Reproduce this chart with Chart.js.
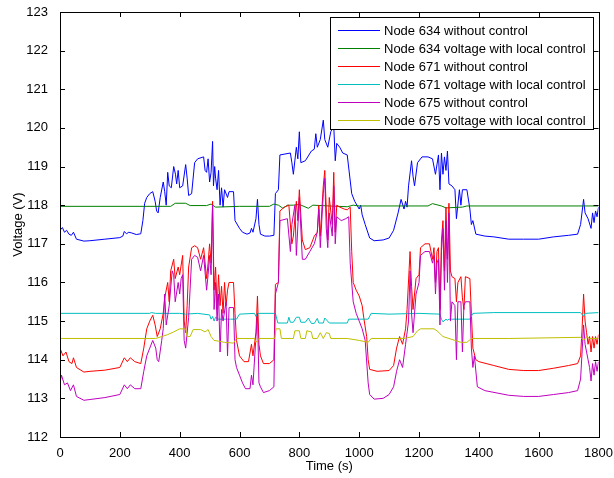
<!DOCTYPE html>
<html>
<head>
<meta charset="utf-8">
<script src="https://cdn.jsdelivr.net/npm/chart.js@4.4.0/dist/chart.umd.min.js"></script>
<style>
    html, body { margin: 0; padding: 0; background: #fff; }
</style>
</head>
<body>
<canvas id="voltageChart" width="614" height="478"></canvas>
<script>
/**
 * Node voltages with / without local control
 */

// axis ticks
const timeTicks = [0, 200, 400, 600, 800, 1000, 1200, 1400, 1600, 1800];
const voltTicks = [112, 113, 114, 115, 116, 117, 118, 119, 120, 121, 122, 123];

const seriesLabels = [
    'Node 634 without control',
    'Node 634 voltage with local control',
    'Node 671 without control',
    'Node 671 voltage with local control',
    'Node 675 without control',
    'Node 675 voltage with local control'
];
const seriesColors = ['#0000ff', '#008000', '#ff0000', '#00bfbf', '#bf00bf', '#bfbf00'];

// [time (s), voltage (V)]
const node634Free = [
    [0,117.35],[8,117.42],[15,117.3],[22,117.35],[30,117.25],[38,117.22],[45,117.3],[55,117.12],[80,117.07],[100,117.08],
    [150,117.12],[200,117.16],[210,117.2],[215,117.32],[222,117.26],[230,117.3],[240,117.28],[255,117.24],[270,117.26],[277,117.6],
    [283,118.05],[290,118.2],[300,118.3],[310,118.35],[318,118.1],[323,117.85],[328,117.8],[335,118.2],[345,118.6],[350,118.35],
    [355,118.0],[360,118.85],[365,118.5],[372,118.45],[380,119.0],[386,118.8],[390,118.55],[395,118.9],[400,118.45],[410,118.5],
    [420,119.05],[425,118.7],[430,118.25],[440,118.3],[450,119.1],[460,119.2],[480,119.25],[485,118.9],[490,118.85],[495,119.2],
    [500,118.6],[505,118.85],[510,119.65],[513,118.5],[517,119.0],[520,118.7],[525,118.4],[530,118.9],[535,118.0],[540,118.45],
    [545,117.95],[550,118.4],[560,118.2],[565,118.35],[580,118.35],[585,117.6],[600,117.4],[610,117.3],[625,117.25],[635,117.28],
    [640,117.4],[645,117.3],[655,117.65],[660,118.15],[665,117.5],[670,117.25],[685,117.2],[700,117.2],[715,117.22],[720,118.3],
    [730,118.4],[735,119.3],[770,119.35],[775,119.1],[780,118.8],[790,119.5],[795,119.2],[800,119.9],[805,119.1],[820,119.15],
    [840,119.4],[850,119.45],[855,119.85],[860,119.5],[870,119.7],[880,120.2],[885,119.7],[895,119.5],[905,119.9],[915,120.05],
    [920,119.15],[925,119.6],[935,119.5],[945,119.35],[960,119.3],[975,118.3],[985,118.1],[1000,117.9],[1005,118.0],[1010,117.75],
    [1020,117.5],[1035,117.15],[1050,117.08],[1080,117.1],[1100,117.15],[1115,117.35],[1130,117.8],[1140,118.15],[1150,117.9],[1155,118.1],
    [1160,117.95],[1165,118.5],[1175,119.15],[1180,118.75],[1185,118.5],[1195,119.1],[1210,119.25],[1230,119.25],[1245,119.2],[1255,118.8],
    [1265,119.3],[1270,118.4],[1275,119.35],[1280,118.8],[1285,119.25],[1290,118.9],[1295,119.4],[1300,118.55],[1310,118.5],[1320,118.4],
    [1325,117.65],[1335,118.4],[1340,118.0],[1345,118.4],[1360,118.4],[1370,117.9],[1375,117.5],[1380,117.6],[1390,117.25],[1420,117.2],
    [1450,117.18],[1500,117.12],[1550,117.12],[1600,117.12],[1650,117.18],[1700,117.22],[1730,117.25],[1740,117.5],[1750,118.15],[1755,117.8],
    [1765,117.65],[1775,117.4],[1780,117.8],[1785,117.55],[1790,117.85],[1795,117.7],[1800,117.95]
];

const node634Ctrl = [
    [0,117.97],[370,117.97],[385,118.05],[420,118.05],[435,117.99],[490,117.99],[505,118.03],[520,117.95],[600,117.97],[700,117.97],
    [715,118.03],[730,118.0],[745,117.92],[760,118.0],[780,118.0],[800,118.02],[830,117.92],[845,118.0],[900,117.98],[960,117.96],
    [980,118.0],[1000,117.98],[1230,117.98],[1245,118.04],[1275,117.98],[1290,117.93],[1345,117.95],[1360,117.98],[1800,117.98]
];

const node671Free = [
    [0,114.3],[5,114.2],[10,114.1],[20,114.2],[30,113.95],[40,113.9],[45,114.05],[55,113.8],[80,113.68],[100,113.7],
    [150,113.73],[200,113.8],[215,114.05],[225,113.95],[235,114.05],[250,113.95],[270,113.9],[280,114.3],[290,114.8],[300,115.0],
    [310,115.15],[318,114.9],[325,114.6],[335,114.8],[345,115.2],[350,115.6],[360,116.0],[365,115.5],[370,116.3],[380,116.6],
    [385,116.1],[395,116.4],[400,116.2],[410,116.7],[415,115.0],[420,114.7],[425,115.4],[430,116.4],[440,116.9],[450,116.95],
    [460,116.9],[470,116.6],[480,116.9],[490,116.1],[495,116.5],[500,117.0],[505,116.5],[510,118.1],[515,115.8],[520,116.4],
    [525,115.3],[530,116.2],[535,115.4],[540,115.9],[545,115.2],[550,116.0],[555,115.4],[560,115.8],[565,116.0],[580,116.0],
    [585,115.2],[590,114.5],[600,114.1],[615,113.95],[630,113.95],[640,114.4],[645,114.1],[655,114.7],[660,115.65],[665,114.4],
    [670,114.1],[680,113.9],[700,113.9],[715,114.0],[720,115.95],[730,116.0],[735,117.85],[750,117.95],[765,118.0],[775,117.0],
    [780,117.2],[790,118.1],[795,117.6],[800,118.4],[810,117.1],[820,116.85],[835,116.9],[850,117.2],[860,117.3],[865,118.0],
    [870,117.2],[880,118.5],[885,118.9],[890,117.9],[895,117.1],[900,118.2],[910,117.5],[915,118.85],[920,117.3],[925,118.0],
    [935,117.95],[950,117.9],[960,117.88],[970,117.95],[975,116.8],[980,116.0],[990,115.8],[1000,115.65],[1010,115.4],[1015,115.1],
    [1025,114.6],[1030,114.0],[1035,113.75],[1060,113.7],[1100,113.72],[1115,113.85],[1125,114.3],[1135,114.6],[1145,114.4],[1155,114.8],
    [1160,115.3],[1170,116.8],[1175,115.9],[1180,115.3],[1190,116.1],[1200,116.2],[1205,116.9],[1220,117.0],[1235,117.0],[1245,116.6],
    [1250,116.9],[1255,116.0],[1260,116.8],[1265,116.9],[1270,115.3],[1275,117.1],[1280,117.6],[1285,116.3],[1290,117.95],[1295,116.6],
    [1300,118.05],[1305,116.3],[1310,116.15],[1320,116.1],[1325,115.5],[1330,116.0],[1340,116.15],[1345,115.6],[1350,115.3],[1355,116.15],
    [1370,116.1],[1375,115.2],[1380,114.3],[1390,114.0],[1400,113.95],[1450,113.85],[1500,113.75],[1550,113.72],[1600,113.72],[1650,113.78],
    [1700,113.85],[1730,113.9],[1740,114.1],[1745,114.8],[1750,115.7],[1755,115.0],[1760,114.7],[1765,114.4],[1770,114.6],[1775,114.2],
    [1780,114.6],[1785,114.3],[1790,114.6],[1795,114.4],[1800,114.65]
];

const node671Ctrl = [
    [0,115.2],[300,115.2],[305,115.22],[320,115.2],[400,115.2],[420,115.18],[460,115.2],[500,115.16],[505,115.05],[510,115.12],
    [515,115.0],[520,115.1],[530,115.05],[570,115.05],[590,115.05],[600,115.18],[650,115.2],[655,115.12],[660,115.2],[720,115.2],
    [728,114.95],[760,114.95],[765,115.1],[770,114.97],[780,114.97],[790,115.1],[800,115.1],[805,114.97],[820,114.97],[830,115.08],
    [840,114.94],[850,114.94],[860,115.07],[865,114.95],[880,114.95],[885,115.08],[900,114.95],[960,114.95],[965,115.05],[1030,115.05],
    [1040,115.2],[1100,115.18],[1200,115.2],[1270,115.18],[1275,115.05],[1280,114.98],[1290,115.05],[1295,115.02],[1300,115.05],[1370,115.05],
    [1380,115.2],[1450,115.22],[1740,115.22],[1750,115.12],[1755,115.2],[1800,115.22]
];

const node675Free = [
    [0,113.4],[5,113.6],[15,113.35],[25,113.4],[35,113.2],[45,113.35],[55,113.05],[80,112.95],[100,112.97],[150,113.02],
    [200,113.1],[215,113.35],[225,113.25],[235,113.35],[250,113.25],[270,113.25],[280,113.7],[290,114.1],[300,114.3],[310,114.5],
    [320,114.3],[325,114.0],[330,113.95],[340,114.5],[345,114.8],[350,115.7],[355,114.9],[365,115.4],[375,116.3],[380,116.2],
    [385,115.5],[395,116.0],[400,115.7],[405,116.1],[410,116.2],[415,114.5],[420,114.3],[430,115.1],[440,116.6],[450,116.7],
    [460,116.65],[470,116.3],[480,116.7],[490,115.8],[495,116.2],[500,116.7],[505,116.2],[510,118.0],[515,115.3],[520,116.0],
    [525,115.0],[530,115.7],[535,114.2],[540,115.3],[545,115.0],[555,115.5],[560,114.1],[565,115.35],[580,115.35],[585,114.0],
    [590,113.8],[600,113.6],[610,113.4],[620,113.25],[635,113.25],[640,113.6],[645,113.35],[655,114.6],[660,115.2],[665,113.4],
    [670,113.3],[680,113.15],[700,113.2],[715,113.3],[720,115.7],[730,116.0],[735,117.6],[760,117.65],[770,116.8],[775,117.5],
    [785,118.0],[790,116.7],[800,118.2],[810,116.6],[820,116.6],[835,116.8],[850,117.0],[860,117.3],[865,117.9],[870,116.9],
    [880,118.3],[885,118.7],[890,117.4],[895,116.9],[900,117.8],[910,117.2],[915,118.5],[920,117.0],[925,117.7],[940,117.6],
    [955,117.65],[965,117.7],[970,116.5],[980,115.5],[990,115.2],[1000,115.0],[1010,114.8],[1020,114.5],[1030,113.4],[1035,113.1],
    [1050,112.98],[1080,113.0],[1100,113.1],[1115,113.3],[1125,113.7],[1135,114.0],[1145,113.8],[1155,114.4],[1165,115.0],[1170,116.3],
    [1175,115.2],[1180,114.7],[1190,115.7],[1200,116.0],[1205,116.7],[1220,116.8],[1235,116.8],[1245,116.5],[1250,116.7],[1255,115.7],
    [1260,116.5],[1265,116.6],[1270,114.9],[1275,116.8],[1280,117.4],[1285,115.8],[1290,117.6],[1295,116.0],[1300,117.8],[1305,115.0],
    [1310,115.5],[1320,115.4],[1325,114.0],[1330,115.5],[1340,115.5],[1345,114.2],[1350,115.4],[1355,115.5],[1370,115.5],[1375,114.3],
    [1380,113.8],[1385,114.1],[1395,113.3],[1420,113.2],[1500,113.08],[1550,113.05],[1600,113.05],[1650,113.1],[1700,113.15],[1730,113.2],
    [1740,113.5],[1745,114.2],[1750,114.9],[1755,114.4],[1765,114.0],[1770,113.8],[1775,113.45],[1780,113.9],[1785,113.6],[1790,113.95],
    [1795,113.7],[1800,113.95]
];

const node675Ctrl = [
    [0,114.55],[320,114.55],[340,114.6],[360,114.65],[380,114.72],[400,114.8],[420,114.8],[425,114.6],[435,114.6],[445,114.78],
    [470,114.78],[485,114.72],[495,114.78],[505,114.6],[515,114.5],[530,114.48],[550,114.45],[580,114.43],[590,114.55],[650,114.55],
    [655,114.45],[665,114.55],[718,114.55],[722,114.8],[735,114.8],[740,114.55],[780,114.55],[785,114.75],[800,114.75],[805,114.55],
    [820,114.55],[825,114.75],[840,114.72],[845,114.55],[860,114.55],[870,114.7],[880,114.55],[890,114.7],[900,114.68],[905,114.55],
    [960,114.55],[1000,114.5],[1030,114.45],[1040,114.55],[1150,114.55],[1180,114.6],[1195,114.75],[1205,114.8],[1250,114.8],[1260,114.75],
    [1280,114.6],[1300,114.55],[1320,114.5],[1340,114.45],[1360,114.45],[1375,114.55],[1500,114.55],[1740,114.58],[1750,114.5],[1760,114.6],
    [1770,114.55],[1800,114.55]
];

const seriesData = [node634Free, node634Ctrl, node671Free, node671Ctrl, node675Free, node675Ctrl];

const FONT = 'Liberation Sans, Arial, Helvetica, sans-serif';

// MATLAB-style frame with inward ticks
const framePlugin = {
    id: 'frame',
    afterDatasetsDraw(chart) {
        const { ctx, chartArea: a, scales } = chart;
        ctx.save();
        ctx.strokeStyle = '#000';
        ctx.lineWidth = 1;
        ctx.beginPath();
        timeTicks.forEach(t => {
            const x = Math.round(scales.x.getPixelForValue(t)) + 0.5;
            ctx.moveTo(x, a.bottom); ctx.lineTo(x, a.bottom - 5);
            ctx.moveTo(x, a.top); ctx.lineTo(x, a.top + 5);
        });
        voltTicks.forEach(v => {
            const y = Math.round(scales.y.getPixelForValue(v)) + 0.5;
            ctx.moveTo(a.left, y); ctx.lineTo(a.left + 5, y);
            ctx.moveTo(a.right, y); ctx.lineTo(a.right - 5, y);
        });
        ctx.stroke();
        ctx.strokeRect(Math.round(a.left) + 0.5, Math.round(a.top) + 0.5,
            Math.round(a.right - a.left), Math.round(a.bottom - a.top));
        ctx.restore();
    }
};

// legend box in the top right corner of the axes
const legendPlugin = {
    id: 'boxLegend',
    afterDraw(chart) {
        const { ctx } = chart;
        const box = { left: 330.5, top: 17.5, width: 263, height: 112 };
        ctx.save();
        ctx.fillStyle = '#fff';
        ctx.fillRect(box.left, box.top, box.width, box.height);
        ctx.strokeStyle = '#000';
        ctx.lineWidth = 1;
        ctx.strokeRect(box.left, box.top, box.width, box.height);
        ctx.font = '13px ' + FONT;
        ctx.textBaseline = 'middle';
        ctx.fillStyle = '#000';
        chart.data.datasets.forEach((ds, i) => {
            const y = 30.5 + i * 18;
            ctx.strokeStyle = ds.borderColor;
            ctx.beginPath();
            ctx.moveTo(338, y);
            ctx.lineTo(380, y);
            ctx.stroke();
            ctx.fillText(ds.label, 384, y + 0.5);
        });
        ctx.restore();
    }
};

const ctx = document.getElementById('voltageChart').getContext('2d');

new Chart(ctx, {
    type: 'line',
    data: {
        datasets: seriesData.map((pts, i) => ({
            label: seriesLabels[i],
            data: pts.map(([t, v]) => ({ x: t, y: v })),
            borderColor: seriesColors[i],
            borderWidth: 1,
            pointRadius: 0,
            tension: 0,
            fill: false,
            order: seriesData.length - i
        }))
    },
    options: {
        responsive: false,
        animation: false,
        layout: { padding: { top: 12, right: 15, left: 0, bottom: 0 } },
        plugins: {
            legend: { display: false },
            tooltip: { enabled: false }
        },
        scales: {
            x: {
                type: 'linear',
                min: 0,
                max: 1800,
                afterBuildTicks: (scale) => { scale.ticks = timeTicks.map(v => ({ value: v })); },
                afterFit: (scale) => { scale.height = 41; },
                grid: { display: false },
                border: { display: false },
                ticks: {
                    color: '#000',
                    padding: 1,
                    maxRotation: 0,
                    font: { family: FONT, size: 13 },
                    callback: (v) => String(v)
                },
                title: {
                    display: true,
                    text: 'Time (s)',
                    color: '#000',
                    padding: { top: 0, bottom: 4 },
                    font: { family: FONT, size: 13 }
                }
            },
            y: {
                type: 'linear',
                min: 112,
                max: 123,
                afterBuildTicks: (scale) => { scale.ticks = voltTicks.map(v => ({ value: v })); },
                afterFit: (scale) => { scale.width = 60; },
                grid: { display: false },
                border: { display: false },
                ticks: {
                    color: '#000',
                    padding: 4,
                    font: { family: FONT, size: 13 },
                    callback: (v) => String(v)
                },
                title: {
                    display: true,
                    text: 'Voltage (V)',
                    color: '#000',
                    padding: { top: 11, bottom: 0 },
                    font: { family: FONT, size: 13 }
                }
            }
        }
    },
    plugins: [framePlugin, legendPlugin]
});
</script>
</body>
</html>
